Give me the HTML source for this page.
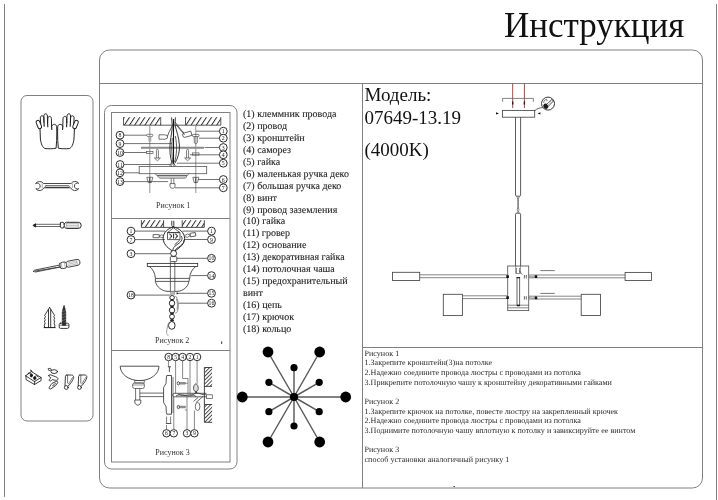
<!DOCTYPE html>
<html><head><meta charset="utf-8">
<style>
html,body{margin:0;padding:0;background:#fff;}
body{width:718px;height:500px;overflow:hidden;position:relative;}
svg{position:absolute;left:0;top:0;will-change:transform;}
text{font-family:"Liberation Serif",serif;}
</style></head><body>
<svg width="718" height="500" viewBox="0 0 718 500">
<defs>
<pattern id="hatch" patternUnits="userSpaceOnUse" width="4.3" height="10" patternTransform="rotate(33)">
<line x1="0.5" y1="0" x2="0.5" y2="10" stroke="#222" stroke-width="0.95"/>
</pattern>
<pattern id="hatch2" patternUnits="userSpaceOnUse" width="2.7" height="10" patternTransform="rotate(45)">
<line x1="0.5" y1="0" x2="0.5" y2="10" stroke="#222" stroke-width="0.85"/>
</pattern>
</defs>
<!-- page frame -->
<g fill="none" stroke="#808080" stroke-width="1">
<path d="M4.5 4V497"/>
<path d="M716.5 4V500"/>
<!-- big box -->
<rect x="99.5" y="50" width="603" height="438" rx="10"/>
<path d="M99.5 83.5H702.5"/>
<path d="M362.5 83.5V488"/>
<path d="M362.5 347.5H702.5"/>
<!-- tool box -->
<rect x="21" y="95.5" width="72" height="325.5" rx="6"/>
<!-- fig panel -->
<rect x="104.5" y="105.5" width="132.5" height="363.5" rx="7"/>
<rect x="111.5" y="112.5" width="118.5" height="349.5"/>
<path d="M111.5 218.5H230M111.5 350.5H230"/>
</g>

<!-- TOOLS -->
<g id="tools" fill="none" stroke="#1a1a1a" stroke-width="0.95" stroke-linejoin="round" stroke-linecap="round">
<!-- gloves -->
<g id="glove">
<path d="M40.7 123.8L40.3 118C40.3 116.6 41 115.8 42 115.8C43 115.8 43.7 116.6 43.8 118L44 122.5L43.9 116C43.9 114.5 44.6 113.8 45.6 113.8C46.6 113.8 47.3 114.5 47.4 116L47.6 123L47.9 118.3C48 117 48.7 116.3 49.7 116.4C50.7 116.5 51.4 117.3 51.4 118.6L51.6 126.3L52.3 125.3C52.8 124.6 53.6 124.2 54.4 124.3C55.6 124.5 56.6 125.3 56.7 126.8L56.8 133C56.8 138 56.6 143 56.1 148.2C52.5 148.9 48.5 148.9 45 148.5C42.5 147.6 41.1 144 40.4 139L40 128.4"/>
<path d="M44 122.5L44.2 126.2M47.6 123L47.8 126.8M51.6 126.3L51.8 129.5" stroke-width="1.1"/>
<rect x="37" y="120.2" width="3.7" height="8.6" rx="1.8" transform="rotate(-22 38.85 124.5)" fill="#fff"/>
</g>
<use href="#glove" transform="translate(114.4 0) scale(-1 1)"/>
<!-- wrench -->
<path d="M35.87 183.31A4.6 4.6 0 0 1 43.46 183.5H71.14A4.6 4.6 0 0 1 78.73 183.31A3 3 0 1 0 78.73 188.69A4.6 4.6 0 0 1 70.77 187.8H43.83A4.6 4.6 0 0 1 35.87 188.69A3 3 0 1 0 35.87 183.31Z" stroke="#2a2a2a" stroke-width="0.85"/>
<path d="M42.2 183.7V187.6M72.4 183.7V187.6" stroke="#777" stroke-width="0.6"/>
<path d="M46.2 185.5H68.4A0.95 0.95 0 0 1 68.4 187.4H46.2A0.95 0.95 0 0 1 46.2 185.5Z" stroke="#444" stroke-width="0.7"/>
<path d="M46 187.3H68.6" stroke="#333" stroke-width="1"/>
<!-- screwdriver -->
<path d="M35.3 224.3H60.3M35.3 226.5H60.3" stroke="#444" stroke-width="0.8"/>
<path d="M33.2 225.2L35.6 223.8V226.6Z" fill="#111" stroke-width="0.9"/>
<path d="M60.5 223C61 222.5 61.6 222.3 62.2 222.3C62.9 222.3 63.5 222.5 64 223C64.4 224.4 64.4 226 64 227.3C63.5 227.8 62.9 228 62.2 228C61.6 228 61 227.8 60.5 227.3C60.1 226 60.1 224.4 60.5 223Z"/>
<path d="M64.2 224C64.8 223 65.5 222.4 66.4 222.3H78.3A2.9 3.05 0 0 1 78.3 228.4H66.4C65.5 228.3 64.8 227.6 64.2 226.6"/>
<path d="M66.3 222.3V228.4M78.3 222.4V228.3M66.8 223.6H77.8M66.8 225.3H77.8M66.8 227.1H77.8" stroke-width="0.45" stroke="#666"/>
<!-- drill bit -->
<g transform="rotate(-11.5 33.4 271.4)" stroke="#333" stroke-width="0.85">
<path d="M33.4 271.4L35 270.4H60.6M35 272.4H60.6L33.4 271.4" stroke-width="0.8"/>
<path d="M37 270.4L38.8 272.4M40.6 270.4L42.4 272.4M44.2 270.4L46 272.4M47.8 270.4L49.6 272.4M51.4 270.4L53.2 272.4M55 270.4L56.8 272.4M58.6 270.4L60.4 272.4" stroke-width="0.4" stroke="#666"/>
<path d="M60.8 269C61.4 268.4 62.6 268.2 63.9 268.2C65.2 268.2 66.4 268.4 67 269C67.4 270.4 67.4 272.4 67 273.8C66.4 274.4 65.2 274.6 63.9 274.6C62.6 274.6 61.4 274.4 60.8 273.8C60.4 272.4 60.4 270.4 60.8 269Z"/>
<path d="M62.2 268.4V274.4M65.5 268.4V274.4" stroke-width="0.45" stroke="#666"/>
<path d="M67.1 269.3L68.5 268.3H78.5A2.4 3 0 0 1 78.5 274.3H68.5L67.1 273.3"/>
<path d="M69 269.8H77.5M69 271.3H77.5M69 272.8H77.5M78 268.5V274.1" stroke-width="0.4" stroke="#666"/>
</g>
<!-- dowel -->
<path d="M44.1 327.6H55.1" stroke-width="1"/>
<path d="M49.6 307.5L45.6 313.8L44.5 315.6L45.5 316.4L44.4 318.8L45.4 319.6L44.3 322L45.3 322.8L44.3 325.2L44.6 327.6M49.6 307.5L53.6 313.8L54.7 315.6L53.7 316.4L54.8 318.8L53.8 319.6L54.9 322L53.9 322.8L54.9 325.2L54.6 327.6M48.5 309.5V327.4M50.7 309.5V327.4" stroke-width="0.85"/>
<!-- screw -->
<path d="M64 305.8L63.1 308.5L62.3 312V325.3H65.7V312L64.9 308.5Z" fill="#333" stroke-width="0.7"/>
<path d="M62.3 311.5L65.7 310.5M62.3 314.5L65.7 313.5M62.3 317.5L65.7 316.5M62.3 320.5L65.7 319.5M62.3 323.5L65.7 322.5" stroke="#999" stroke-width="0.5"/>
<path d="M60.5 323.2H67.6C68.5 323.2 68.9 323.8 68.9 324.6V327C68.9 327.9 68.4 328.4 67.6 328.4H60.5C59.6 328.4 59.2 327.9 59.2 327V324.6C59.2 323.8 59.6 323.2 60.5 323.2Z" stroke-width="0.85"/>
<path d="M59.4 325.3H68.7" stroke-width="0.5"/>
<!-- terminal block -->
<path d="M25.9 375.5L31.4 371.6L41.1 377.5L34.7 381.3Z" stroke-width="0.85"/>
<path d="M25.9 375.5L26.1 379.6L34.5 384.5L41.1 380.6V377.5M34.7 381.3L34.5 384.5" stroke-width="0.85"/>
<path d="M31.2 371.5L30.7 369.8L32.2 371.9M28 374.1L28.8 372.7L31 374M35 376.6L36.3 375.6L38.4 377" stroke-width="0.8"/>
<ellipse cx="31.4" cy="375.4" rx="1.1" ry="1.5" fill="#111"/><ellipse cx="34.7" cy="378.1" rx="1.1" ry="1.5" fill="#111"/>
<!-- small parts -->
<ellipse cx="54.2" cy="371.6" rx="3.3" ry="1.9" stroke-width="0.85"/>
<path d="M48.4 368.6L50.6 368.3L51.4 370.1L49.2 370.5Z" stroke-width="0.7"/>
<path d="M48.8 375.3C49.4 374.6 50.8 374.6 51.7 375.3C52.7 376 54.4 376 55.5 376.6C56.7 377.2 58 377.6 58 378.9C58 380.1 56.8 380.5 55.8 380.4L52.2 379.6C51.4 381.1 49.6 381.5 49.2 380.4C48.8 379.6 50.7 378.6 50.8 377.7C49.9 377.1 48.4 376.3 48.8 375.3Z" stroke-width="0.85"/>
<path d="M52.5 383.1L56.4 381.4C57.2 381.1 58 381.8 57.6 382.8L55.6 385.6L51 388.8C50 389.5 48.7 388.6 49.2 387.4L51 384.7Z" stroke-width="0.85"/>
<path d="M53.7 384.3L55.7 383.6M52.4 385.8L54.5 385" stroke-width="0.6"/>
<!-- wire nuts -->
<g id="wn">
<path d="M66.6 375H71.6C73 375 73.8 376.1 73.6 377.6C73.2 380 70.6 383.6 68.1 386.2M66.6 375C65.7 375 65.4 375.8 65.4 376.8L65 385.7" stroke-width="0.85"/>
<circle cx="66.3" cy="387.5" r="1.9" stroke-width="0.85"/>
<path d="M67.6 375.3V383M72.7 377.6L71.7 378.4M71.6 379.4L70.6 380.2M70.5 381.2L69.5 382M69.4 383L68.4 383.8" stroke-width="0.6"/>
</g>
<use href="#wn" transform="translate(13.2 0)"/>
</g>
<!-- title -->
<text x="504" y="36.5" font-size="35" fill="#111">Инструкция</text>
<!-- model -->
<g font-size="19" fill="#111">
<text x="364.5" y="100.7">Модель:</text>
<text x="364.5" y="124.1">07649-13.19</text>
<text x="364.5" y="155.6">(4000K)</text>
</g>
<!-- parts list -->
<g font-size="10" fill="#1a1a1a" stroke="#1a1a1a" stroke-width="0.1" text-rendering="geometricPrecision">
<text x="243" y="117.30">(1) клеммник провода</text>
<text x="243" y="129.20">(2) провод</text>
<text x="243" y="141.10">(3) кронштейн</text>
<text x="243" y="153.00">(4) саморез</text>
<text x="243" y="164.90">(5) гайка</text>
<text x="243" y="176.80">(6) маленькая ручка деко</text>
<text x="243" y="188.70">(7) большая ручка деко</text>
<text x="243" y="200.60">(8) винт</text>
<text x="243" y="212.50">(9) провод заземления</text>
<text x="243" y="224.40">(10) гайка</text>
<text x="243" y="236.30">(11) гровер</text>
<text x="243" y="248.20">(12) основание</text>
<text x="243" y="260.10">(13) декоративная гайка</text>
<text x="243" y="272.00">(14) потолочная чаша</text>
<text x="243" y="283.90">(15) предохранительный</text>
<text x="243" y="295.80">винт</text>
<text x="243" y="307.70">(16) цепь</text>
<text x="243" y="319.60">(17) крючок</text>
<text x="243" y="331.50">(18) кольцо</text>
</g>
<!-- instructions -->
<g font-size="8.08" fill="#2a2a2a" text-rendering="geometricPrecision">
<text x="364.5" y="355.7">Рисунок 1</text>
<text x="364.5" y="365.3">1.Закрепите кронштейн(3)на потолке</text>
<text x="364.5" y="375.1">2.Надежно соедините провода люстры с проводами из потолка</text>
<text x="364.5" y="384.5">3.Прикрепите потолочную чашу к кронштейну декоративными гайками</text>
<text x="364.5" y="404.3">Рисунок 2</text>
<text x="364.5" y="413.7">1.Закрепите крючок на потолке, повесте люстру на закрепленный крючек</text>
<text x="364.5" y="423.4">2.Надежно соедините провода люстры с проводами из потолка</text>
<text x="364.5" y="433.2">3.Поднимите потолочную чашу вплотную к потолку и завиксируйте ее винтом</text>
<text x="364.5" y="452.4">Рисунок 3</text>
<text x="364.5" y="461.7">способ установки аналогичный рисунку 1</text>
</g>
<!-- FIG1 -->
<g id="fig1" fill="none" stroke="#444" stroke-width="0.75">
<rect x="123.5" y="117.2" width="37.2" height="8" fill="url(#hatch)" stroke="none"/><rect x="185.5" y="117.2" width="35.3" height="8" fill="url(#hatch)" stroke="none"/><path d="M123.5 117.2V125.2H220.8V117.2M160.7 117.2V125.2M185.5 117.2V125.2" stroke="#333" stroke-width="0.8"/><path d="M149.8 125.2V193M195.8 125.2V193" stroke="#888" stroke-width="0.9"/><path d="M141 147.8H204" stroke="#8a8a8a" stroke-width="2"/><path d="M123.8 135.2H147M123.8 143.6H172M123.8 152.5H146.5M123.8 164.5H170M123.8 172.8H139.2M123.8 181.6H168"/><path d="M219.5 131.2H196M219.5 138.2H199M219.5 147.5H204.5M219.5 154.8H190M219.5 163.2H177M219.5 179.5H198M219.5 187.8H175"/><rect x="139.2" y="166.5" width="67.5" height="7.2" stroke="#555" stroke-width="0.8"/><path d="M155 173.7L159.8 178.2H185.2L188.9 173.7" stroke="#555"/><path d="M157 175.5H187" stroke="#666" stroke-width="1.3"/><path d="M158.6 177H186.4" stroke="#888" stroke-width="0.7"/><path d="M146.8 177.3H152.8L151.4 182.6H148.20000000000002Z" stroke="#444" stroke-width="0.7"/><path d="M149.8 177.3V183" stroke="#333" stroke-width="0.9"/><path d="M192.8 177.3H198.8L197.4 182.6H194.20000000000002Z" stroke="#444" stroke-width="0.7"/><path d="M195.8 177.3V183" stroke="#333" stroke-width="0.9"/><path d="M171.2 178.2V183.6M173.8 178.2V183.6" stroke="#555"/><path d="M170 183.6H175V186.2C175 187.4 174 188.2 172.5 188.2C171 188.2 170 187.4 170 186.2Z" stroke="#444" stroke-width="0.75"/><rect x="146.8" y="134.3" width="6" height="2.2" rx="0.8" stroke="#555" stroke-width="0.7"/><rect x="148.4" y="136.5" width="2.9" height="5" fill="#aaa" stroke="none"/><rect x="192.6" y="134.4" width="6.4" height="2.2" rx="0.6" stroke="#444" stroke-width="0.7"/><path d="M194.3 136.6V142C194.3 143.2 195 143.8 195.8 143.8C196.6 143.8 197.3 143.2 197.3 142V136.6" stroke="#444" stroke-width="0.7"/><rect x="146.5" y="151.4" width="6.5" height="2.2" stroke="#555" stroke-width="0.7"/><rect x="192.5" y="152.9" width="6.5" height="2.2" stroke="#555" stroke-width="0.7"/><path d="M156.4 158V150.5C156.4 149.7 156.9 149.3 157.4 149.3C157.9 149.3 158.4 149.7 158.4 150.5V158M154.4 158H160.4L157.4 160.8Z" stroke="#444" stroke-width="0.7"/><path d="M186.6 158V150.5C186.6 149.7 187.1 149.3 187.6 149.3C188.1 149.3 188.6 149.7 188.6 150.5V158M184.6 158H190.6L187.6 160.8Z" stroke="#444" stroke-width="0.7"/><path d="M159 134.8H165L167.4 135.8V138.2L165 139.2H159Z" stroke="#444" stroke-width="0.75"/><g transform="rotate(-15 188 134.2)"><path d="M184 132H191.5V136.4H184L182.6 135.3V133.1Z" stroke="#444" stroke-width="0.75"/></g><path d="M171.6 117.4L172.2 125C172.4 130 171 136 170.2 142C169.5 150 170 157 172 163M175.4 117.4L175 125C176.5 131 179 138 179.4 145C179.8 152 178 158 175 163" stroke="#222" stroke-width="0.9"/><path d="M173.5 119V164" stroke="#111" stroke-width="1.1"/><path d="M172.2 126C170 130 168.5 133 167.4 136.5M175 122C178 126 181 130 184 133M176 124.5C179 128.5 182 131.5 184.5 135M172.3 138C171.3 148 171.8 155 172.8 162M175.3 136C177.3 145 176.8 155 174.6 162" stroke="#333" stroke-width="0.8"/><path d="M169.8 165.8L172.5 161.5L175.3 165.8M170.5 164H174.5" stroke="#333" stroke-width="0.8"/><path d="M171.2 166.5V165.2M173.8 166.5V165.2" stroke="#333"/><g stroke="#222" stroke-width="0.95" fill="#fff"><circle cx="120" cy="135.2" r="3.9"/><text x="120" y="137.2" font-size="5.8" text-anchor="middle" fill="#222" stroke="none">8</text><circle cx="120" cy="143.6" r="3.9"/><text x="120" y="145.6" font-size="5.8" text-anchor="middle" fill="#222" stroke="none">9</text><circle cx="120" cy="152.5" r="3.9"/><text x="120" y="154.5" font-size="5.8" text-anchor="middle" fill="#222" stroke="none">10</text><circle cx="120" cy="164.5" r="3.9"/><text x="120" y="166.5" font-size="5.8" text-anchor="middle" fill="#222" stroke="none">11</text><circle cx="120" cy="172.8" r="3.9"/><text x="120" y="174.8" font-size="5.8" text-anchor="middle" fill="#222" stroke="none">12</text><circle cx="120" cy="181.6" r="3.9"/><text x="120" y="183.6" font-size="5.8" text-anchor="middle" fill="#222" stroke="none">13</text><circle cx="223.3" cy="131.2" r="3.9"/><text x="223.3" y="133.2" font-size="5.8" text-anchor="middle" fill="#222" stroke="none">1</text><circle cx="223.3" cy="138.2" r="3.9"/><text x="223.3" y="140.2" font-size="5.8" text-anchor="middle" fill="#222" stroke="none">2</text><circle cx="223.3" cy="147.5" r="3.9"/><text x="223.3" y="149.5" font-size="5.8" text-anchor="middle" fill="#222" stroke="none">3</text><circle cx="223.3" cy="154.8" r="3.9"/><text x="223.3" y="156.8" font-size="5.8" text-anchor="middle" fill="#222" stroke="none">4</text><circle cx="223.3" cy="163.2" r="3.9"/><text x="223.3" y="165.2" font-size="5.8" text-anchor="middle" fill="#222" stroke="none">5</text><circle cx="223.3" cy="179.5" r="3.9"/><text x="223.3" y="181.5" font-size="5.8" text-anchor="middle" fill="#222" stroke="none">6</text><circle cx="223.3" cy="187.8" r="3.9"/><text x="223.3" y="189.8" font-size="5.8" text-anchor="middle" fill="#222" stroke="none">7</text></g>
</g>
<!-- FIG2 -->
<g id="fig2" fill="none" stroke="#444" stroke-width="0.75">
<rect x="141.4" y="220.2" width="22.2" height="6.8" fill="url(#hatch)" stroke="none"/><rect x="182" y="220.2" width="22.3" height="6.8" fill="url(#hatch)" stroke="none"/><path d="M141.4 220.2V227.4H204.3V220.2M163.6 220.2V227.4M182.2 220.2V227.4" stroke="#333" stroke-width="0.85"/><path d="M134.9 231.1H165M134.9 239.6H165M134.9 253.7H170.6M134.9 295.1H170.2" stroke="#444" stroke-width="0.8"/><path d="M207.6 231.1H182.5M207.6 239.5H184.6M207.6 258.3H176.8M207.6 275.6H191.2M207.6 293.3H178.5M207.6 303.2H178.5" stroke="#444" stroke-width="0.8"/><path d="M176.6 292.2L178.9 293.3L176.6 294.4Z" fill="#111" stroke="none"/><path d="M173.5 226.8C168 228.5 163.2 232 163.2 238.5C163.2 243.5 167 247.5 172.2 250.8M173.5 226.8C179 228.5 184.6 232 184.6 238.5C184.6 243.5 180.5 247.5 175 250.8" stroke="#222" stroke-width="1"/><path d="M171.8 220.8V225.6L173.3 227.2M173.8 220.8V225.6L173.3 227.2" stroke="#222" stroke-width="0.9"/><path d="M167.5 232.6L173.5 227.8L180 232.6ZM167.5 232.6H180V239.6H167.5Z" stroke="#333" stroke-width="0.8" fill="#fff"/><path d="M169.3 234.2C171.8 233.6 172.4 238.4 169.3 238.2M170.6 236.2H172M175 234.2C177.6 233.6 178.2 238.4 175 238.2M176.3 236.2H177.8M173.6 233.6V238.6" stroke="#111" stroke-width="0.9"/><path d="M181.2 236C183.8 239.5 180 242.8 176.8 244.8C174 246.6 172.6 248.6 172.8 250.8M184 239.8C184.2 243.6 180.5 246 178 247.6C176 248.8 175 250 174.8 250.8M179.5 240.2C178 242.2 176 243.5 174.5 244.8" stroke="#222" stroke-width="0.85"/><path d="M153.1 234.6H159.2V237.7H153.1Z" stroke="#444" stroke-width="0.8" fill="#fff"/><path d="M159.2 236.1L161.4 234.8L163.4 235.4M159.2 236.3L161.4 237.6L163.4 237.2" stroke="#444" stroke-width="0.75"/><g transform="rotate(-10 192.9 234.6)"><path d="M190.2 232.9H195.6V236.4H190.2Z" stroke="#444" stroke-width="0.8" fill="#fff"/></g><path d="M190.2 235.2L187.6 234L184.8 235.4M190.2 235.6L187.6 237.2L184.6 236.8" stroke="#444" stroke-width="0.75"/><circle cx="173.6" cy="253.4" r="3" stroke="#222" stroke-width="0.9" fill="#fff"/><rect x="170.3" y="256.6" width="6.5" height="5" rx="1" stroke="#333" stroke-width="0.85"/><path d="M170.4 261.6V291.2M174.8 261.6V291.2" stroke="#444" stroke-width="0.8"/><rect x="147.3" y="263.4" width="50.4" height="3.1" stroke="#333" stroke-width="0.85"/><path d="M149.3 266.5C152.5 268.8 155 272.5 155.4 278.4V281.4C156.5 287 162 291.2 168 291.4H177C183 291.2 188 287 188.9 281.4L189.6 278.4C190 272.5 192.6 268.8 195.8 266.5" stroke="#333" stroke-width="0.85"/><path d="M155.4 278.4H189.6M155.5 281.4H188.9" stroke="#333" stroke-width="0.8"/><rect x="170.5" y="291.4" width="4.3" height="2.8" fill="#bbb" stroke="#777" stroke-width="0.5"/><g stroke="#222" stroke-width="0.95" fill="#fff"><ellipse cx="172.1" cy="297.6" rx="2.3" ry="2.1"/><ellipse cx="172" cy="303.2" rx="2.7" ry="2.9"/><ellipse cx="172" cy="310.2" rx="2.7" ry="2.9"/><ellipse cx="172" cy="316.6" rx="2.4" ry="2.4"/><ellipse cx="171.8" cy="325.4" rx="3.3" ry="3.9"/></g><g fill="#222" stroke="none"><ellipse cx="172" cy="306.7" rx="1.8" ry="1"/><ellipse cx="172" cy="313.5" rx="1.8" ry="1"/><ellipse cx="172" cy="320.3" rx="1.8" ry="1.3"/><ellipse cx="172" cy="300" rx="1.6" ry="0.8"/></g><path d="M175.2 295.8C178.2 298.5 179 305 177.8 310C177.1 312.6 175.6 313.8 174.8 312.8M176.4 298.8C177.6 302 177.8 306 177 309.6" stroke="#777" stroke-width="0.8"/><path d="M168.8 322.5C167.5 325 167 329 166.6 332C166.3 334 167.3 335.5 168.6 335.2" stroke="#888" stroke-width="0.8"/><path d="M221.7 341.4V344" stroke="#333" stroke-width="1"/><g stroke="#222" stroke-width="0.95" fill="#fff"><circle cx="131" cy="231.1" r="3.9"/><text x="131" y="233.1" font-size="5.8" text-anchor="middle" fill="#222" stroke="none">1</text><circle cx="131" cy="239.6" r="3.9"/><text x="131" y="241.6" font-size="5.8" text-anchor="middle" fill="#222" stroke="none">7</text><circle cx="131" cy="253.7" r="3.9"/><text x="131" y="255.7" font-size="5.8" text-anchor="middle" fill="#222" stroke="none">3</text><circle cx="131" cy="295.1" r="3.9"/><text x="131" y="297.1" font-size="5.8" text-anchor="middle" fill="#222" stroke="none">18</text><circle cx="211.5" cy="231.1" r="3.9"/><text x="211.5" y="233.1" font-size="5.8" text-anchor="middle" fill="#222" stroke="none">1</text><circle cx="211.5" cy="239.5" r="3.9"/><text x="211.5" y="241.5" font-size="5.8" text-anchor="middle" fill="#222" stroke="none">9</text><circle cx="211.5" cy="258.3" r="3.9"/><text x="211.5" y="260.3" font-size="5.8" text-anchor="middle" fill="#222" stroke="none">10</text><circle cx="211.5" cy="275.6" r="3.9"/><text x="211.5" y="277.6" font-size="5.8" text-anchor="middle" fill="#222" stroke="none">14</text><circle cx="211.5" cy="293.3" r="3.9"/><text x="211.5" y="295.3" font-size="5.8" text-anchor="middle" fill="#222" stroke="none">15</text><circle cx="211.5" cy="303.2" r="3.9"/><text x="211.5" y="305.2" font-size="5.8" text-anchor="middle" fill="#222" stroke="none">16</text></g>
</g>
<!-- FIG3 -->
<g id="fig3" fill="none" stroke="#444" stroke-width="0.75">
<path d="M120.2 366.2H159A19.4 14.4 0 0 1 120.2 366.2Z" stroke="#333" stroke-width="0.85"/><rect x="134.8" y="380.4" width="9.4" height="2.6" stroke="#444" stroke-width="0.7"/><rect x="132.6" y="383" width="11.8" height="5.5" rx="2" stroke="#444" stroke-width="0.75"/><path d="M132.8 385H144.2" stroke="#555" stroke-width="0.6"/><path d="M135.6 388.5V400M139.8 388.5V400" stroke="#444" stroke-width="0.75"/><path d="M134.8 400H140.8V402C140.8 403.8 139.3 405 137.8 405.2C136.3 405 134.8 403.8 134.8 402Z" stroke="#333" stroke-width="0.8"/><path d="M139.8 393.1H164.2M139.8 396.6H164.2" stroke="#444" stroke-width="0.8"/><path d="M171.5 375.5H166.8C166.2 377 166.2 381 166 383.5C165.5 385 164 386 163.6 387.5V402.5C164 404 165.5 405 166 406.5C166.2 409 166.2 412.5 166.8 414.2H171.5Z" stroke="#333" stroke-width="0.85" fill="#fff"/><path d="M173 377V413" stroke="#555" stroke-width="0.8"/><path d="M167.8 366.8H171M169.4 366.8V372" stroke="#444" stroke-width="0.9"/><path d="M166.6 416.5V423.5H170.6V416.5M165.8 423.5H171.4" stroke="#444" stroke-width="0.7"/><path d="M179 382.45H185.3V384.15000000000003H179Z" fill="#999" stroke="#555" stroke-width="0.5"/><ellipse cx="178.3" cy="383.3" rx="1.1" ry="1.7" fill="#fff" stroke="#333" stroke-width="0.75"/><path d="M179 406.15H185.3V407.85H179Z" fill="#999" stroke="#555" stroke-width="0.5"/><ellipse cx="178.3" cy="407" rx="1.1" ry="1.7" fill="#fff" stroke="#333" stroke-width="0.75"/><path d="M174.3 393.3H206.5M174.3 396.8H206.5M174.3 393.3C173.2 393.3 172.8 394.3 172.8 395C172.8 395.8 173.2 396.8 174.3 396.8" stroke="#333" stroke-width="0.8"/><rect x="206.5" y="394.8" width="5.8" height="3.6" stroke="#444" stroke-width="0.7"/><path d="M176 396C182 392 188 399 194 394C198 391 202 396 206 394.5M178 394C184 398 190 392 196 396.5" stroke="#333" stroke-width="0.8"/><path d="M195.8 383.8C194.2 384.2 193.5 386.5 193.5 388.5C193.5 390.3 194.6 391.5 195.9 391.5C197.2 391.5 198.3 390.3 198.3 388.5C198.3 386.5 197.5 384.2 195.8 383.8Z" fill="#ddd" stroke="#333" stroke-width="0.8"/><path d="M195.9 391.5L196.2 393" stroke="#111" stroke-width="1.3"/><path d="M203 396.5L196 402.5M198 397.5L193.5 401.5" stroke="#444" stroke-width="0.8"/><ellipse cx="197.6" cy="406.5" rx="2.3" ry="4" stroke="#444" stroke-width="0.75"/><rect x="204.5" y="367.5" width="7.6" height="18.9" fill="url(#hatch2)" stroke="none"/><rect x="204.5" y="404.5" width="7.6" height="17.8" fill="url(#hatch2)" stroke="none"/><path d="M212.1 367.5H204.4V422.3H212.1M204.4 386.4H212.1M204.4 404.5H212.1" stroke="#333" stroke-width="0.9"/><path d="M168.6 360.8V367M175.6 360.8V393.3M182.6 360.8V378.5H188V393.3M190 360.8V393.3M197.1 360.8V383.8M166.5 429.5V425M173.8 429.5V396.8M187 429.5V396.8M194.4 429.5V410.5" stroke="#555" stroke-width="0.7"/><path d="M185.3 383.3H188M184.8 410H187" stroke="#555" stroke-width="0.6"/><g stroke="#222" stroke-width="0.95" fill="#fff"><circle cx="168.6" cy="357" r="3.7"/><text x="168.6" y="359" font-size="5.6" text-anchor="middle" fill="#222" stroke="none">8</text><circle cx="175.6" cy="357" r="3.7"/><text x="175.6" y="359" font-size="5.6" text-anchor="middle" fill="#222" stroke="none">5</text><circle cx="182.6" cy="357" r="3.7"/><text x="182.6" y="359" font-size="5.6" text-anchor="middle" fill="#222" stroke="none">4</text><circle cx="190" cy="357" r="3.7"/><text x="190" y="359" font-size="5.6" text-anchor="middle" fill="#222" stroke="none">2</text><circle cx="197.1" cy="357" r="3.7"/><text x="197.1" y="359" font-size="5.6" text-anchor="middle" fill="#222" stroke="none">1</text><circle cx="166.5" cy="433.3" r="3.7"/><text x="166.5" y="435.3" font-size="5.6" text-anchor="middle" fill="#222" stroke="none">6</text><circle cx="173.8" cy="433.3" r="3.7"/><text x="173.8" y="435.3" font-size="5.6" text-anchor="middle" fill="#222" stroke="none">7</text><circle cx="187" cy="433.3" r="3.7"/><text x="187" y="435.3" font-size="5.6" text-anchor="middle" fill="#222" stroke="none">3</text><circle cx="194.4" cy="433.3" r="3.7"/><text x="194.4" y="435.3" font-size="5.6" text-anchor="middle" fill="#222" stroke="none">9</text></g>
</g>
<!-- CHANDELIER -->
<g id="chand" fill="none" stroke="#555" stroke-width="0.8">
<path d="M512.7 83.5V108M524.4 83.5V108" stroke="#8a3b3b" stroke-width="0.9"/>
<path d="M512.7 101.5V104.5M524.4 101.5V104.5" stroke="#3a1a1a" stroke-width="1.4"/>
<path d="M502.6 101.8V98.4H533.4V101.8" stroke="#666" stroke-width="0.8"/>
<rect x="502.4" y="110.4" width="32.3" height="6.8" stroke="#444" stroke-width="0.85" fill="#fff"/>
<path d="M496 112.2L499 113.4L496 114.6Z" fill="#111" stroke="none"/>
<path d="M540.4 112.2L537.5 113.4L540.4 114.6Z" fill="#111" stroke="none"/>
<path d="M534.8 110.8C536.5 108.8 539.5 107.8 542.6 107.6" stroke="#333" stroke-width="0.8"/>
<circle cx="548" cy="103.6" r="6.5" stroke="#222" stroke-width="0.9" fill="#fff"/>
<path d="M546.4 104.6L551.6 99.4L553.4 101.2L548.2 106.4Z" fill="#fff" stroke="#333" stroke-width="0.7"/><path d="M547.6 103.4L549.4 105.2M548.8 102.2L550.6 104M550 101L551.8 102.8M551.2 99.8L553 101.6" stroke="#444" stroke-width="0.5"/><path d="M543.3 105.6C543.6 103.8 545 103 546.4 103.6L548.4 106.2C548.6 107.6 547.4 108.8 545.8 108.9C544.4 108.9 543.2 107.4 543.3 105.6Z" fill="#1a1a1a" stroke="none"/><path d="M543.8 102.8C543.6 101.2 544.6 99.6 546.2 99.4C547 99.4 547.2 100.4 546.6 101.2" stroke="#333" stroke-width="0.7"/>

<path d="M515.5 117.2V195.2C515.5 195.8 516 196.2 516.8 196.2H519.3C520.1 196.2 520.6 195.8 520.6 195.2V117.2" stroke="#4a4a4a" stroke-width="0.9"/>
<path d="M516.9 196.2C518.9 200 516.9 205 518.9 209.5C519.3 211 517.5 212 517 213.2M519.3 196.2C517.3 200 519.3 205 517.3 209.5C517 211 518.8 212 519.3 213.2" stroke="#555" stroke-width="0.75"/>
<path d="M515.5 266V214.2C515.5 213.6 516 213.2 516.8 213.2H519.3C520.1 213.2 520.6 213.6 520.6 214.2V266" stroke="#4a4a4a" stroke-width="0.9"/>
<rect x="507.7" y="266" width="21" height="44.6" stroke="#555" stroke-width="0.85" fill="#fff"/>
<path d="M507.7 305.2H528.7M507.7 307.8H528.7" stroke="#555" stroke-width="0.7"/>
<path d="M517 277.3V305.6M519.6 277.3V305.6" stroke="#333" stroke-width="0.75"/>
<path d="M516.6 277H520V278.3H516.6Z" fill="#222" stroke="none"/>
<path d="M517 305.5H519.8" stroke="#111" stroke-width="1.5"/>
<path d="M515.7 266.2V273.5H520.4V266.2M516.5 268V273M519.5 268V273M519.3 270.5L522.5 274.8" stroke="#444" stroke-width="0.6"/>
<path d="M524.4 275V278.4M526.3 275V278.4M524.4 296.2V299.6M526.3 296.2V299.6" stroke="#222" stroke-width="0.7"/>
<path d="M419.7 274.8H507.7M419.7 277.7H507.7M462.4 295.8H507.7M462.4 298.6H507.7" stroke="#666" stroke-width="0.8"/>
<path d="M528.7 275H625.1M528.7 277.8H625.1M528.7 296.2H581.2M528.7 299H581.2" stroke="#666" stroke-width="0.8"/>
<rect x="392.5" y="272.3" width="27.2" height="8.2" stroke="#444" stroke-width="0.85" fill="#fff"/>
<rect x="625.1" y="272.4" width="26.3" height="8.1" stroke="#444" stroke-width="0.85" fill="#fff"/>
<rect x="443.3" y="294.3" width="19.1" height="21.3" stroke="#444" stroke-width="0.85" fill="#fff"/>
<rect x="581.2" y="294.3" width="19.3" height="21.2" stroke="#444" stroke-width="0.85" fill="#fff"/>
<path d="M506.3 275.2H508.9V278H506.3ZM506.3 296.2H508.9V299H506.3Z" fill="#111" stroke="none"/>
<path d="M534.7 275.2H537.2V278H534.7ZM534.7 296.4H537.2V299.2H534.7Z" fill="#111" stroke="none"/>
<path d="M529 276.2C530.5 276.6 532 277.2 534.7 276.6M529 297.4C530.5 297.8 532 298.4 534.7 297.8" stroke="#444" stroke-width="0.6"/>
<path d="M540.4 270.6H554.8M540.4 293.4H554.8" stroke="#555" stroke-width="0.8"/>
</g>
<!-- fig captions -->
<g font-size="8" fill="#333">
<text x="156" y="207.7">Рисунок 1</text>
<text x="155" y="343.1">Рисунок 2</text>
<text x="155.3" y="455.1">Рисунок 3</text>
</g>
<ellipse cx="454.2" cy="486.4" rx="0.9" ry="0.5" fill="#333"/>
<!-- sputnik -->
<g stroke="#5a5a5a" stroke-width="1.45">
<path d="M294 397L268 352M294 397L319.7 352M294 397L242.3 397M294 397L345.7 397M294 397L268 442M294 397L319.7 442M294 397V367.7M294 397V426M294 397L268.9 382.3M294 397L319.2 382.3M294 397L268.9 411.7M294 397L319.2 411.7"/>
</g>
<g fill="#000">
<circle cx="294" cy="397" r="4"/>
<circle cx="268" cy="352" r="5.4"/><circle cx="319.7" cy="352" r="5.4"/>
<circle cx="242.3" cy="397" r="5.4"/><circle cx="345.7" cy="397" r="5.4"/>
<circle cx="268" cy="442" r="5.4"/><circle cx="319.7" cy="442" r="5.4"/>
<circle cx="294" cy="367.7" r="3.6"/><circle cx="294" cy="426" r="3.6"/>
<circle cx="268.9" cy="382.3" r="3.6"/><circle cx="319.2" cy="382.3" r="3.6"/>
<circle cx="268.9" cy="411.7" r="3.6"/><circle cx="319.2" cy="411.7" r="3.6"/>
</g>
</svg>
</body></html>
